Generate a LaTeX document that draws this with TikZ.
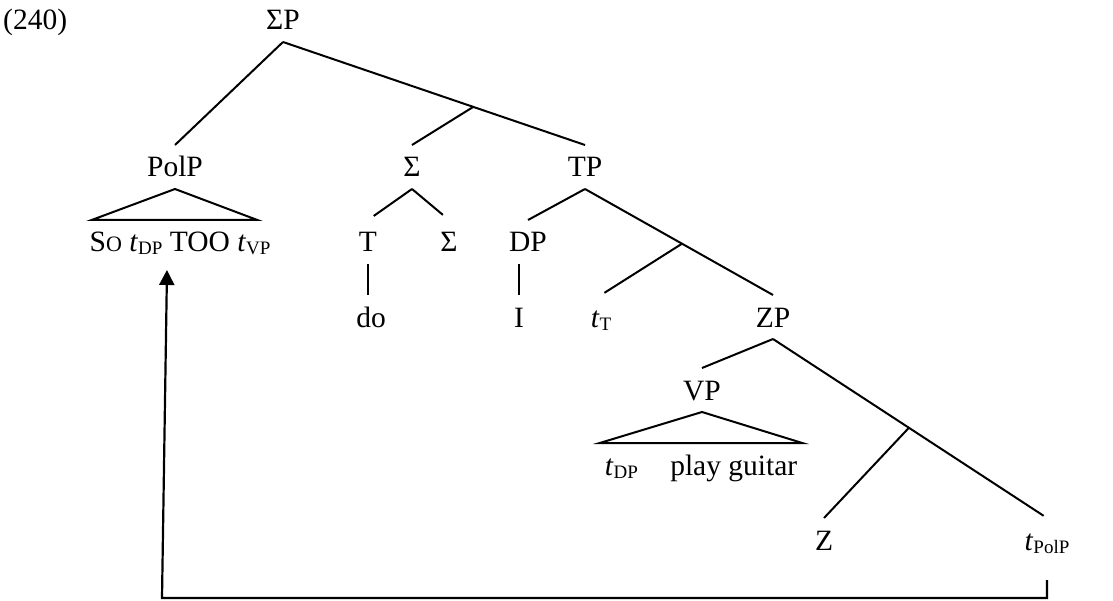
\documentclass[tikz,border=0pt]{standalone}
\usepackage{fontspec}
\setmainfont{Liberation Serif}
\usetikzlibrary{arrows.meta,calc}
\newcommand{\trsub}[1]{\raisebox{-3pt}{\fontsize{19}{19}\selectfont #1}}
\newcommand{\smcap}[1]{{\fontsize{22}{22}\selectfont #1}}
\begin{document}
\begin{tikzpicture}[x=1pt,y=-1pt,
  font=\fontsize{29.5}{35}\selectfont,
  lab/.style={anchor=base, text height=20pt, text depth=0pt, inner sep=0pt, outer xsep=0pt, outer ysep=12pt},
  edge/.style={line width=2pt},
  mv/.style={line width=2.2pt, line join=miter, -{Triangle[width=15pt,length=15pt]}}]
\useasboundingbox (0,0) rectangle (1113,601);
% labels
\node[anchor=base west, inner sep=0pt] (num) at (3,30) {(240)};
\node[lab] (SP) at (283,30) {ΣP};
\node[lab] (PolP) at (175,177) {PolP};
\node[lab] (Sig1) at (412,177) {Σ};
\node[lab] (TP) at (585,177) {TP};
\node[lab] (pols) at (180,252) {S\smcap{O} \textit{t}\trsub{DP} TOO \textit{t}\trsub{VP}};
\node[lab] (T) at (368,252) {T};
\node[lab] (Sig2) at (449,252) {Σ};
\node[lab] (DP) at (528,252) {DP};
\node[lab] (do) at (371,327) {do};
\node[lab] (I) at (519,327) {I};
\node[lab] (tT) at (601,327) {\textit{t}\trsub{T}};
\node[lab] (ZP) at (773,327) {ZP};
\node[lab] (VP) at (702,400) {VP};
\node[lab] (vpt) at (701,475) {\textit{t}\trsub{DP}\hspace{1.1em}play guitar};
\node[lab] (Z) at (824,550) {Z};
\node[lab] (tPolP) at (1047,550) {\textit{t}\trsub{PolP}};
% branches
\draw[edge] (SP.south) -- (PolP.north);
\draw[edge] (SP.south) -- (TP.north);
\coordinate (j1) at ($(SP.south)!0.63!(TP.north)$);
\draw[edge] (j1) -- (Sig1.north);
\draw[edge, shorten >=7pt] (Sig1.south) -- (T.north);
\draw[edge, shorten >=8pt] (Sig1.south) -- (Sig2.north);
\draw[edge] (T.south) -- (T.south |- do.north);
\draw[edge] (TP.south) -- (DP.north);
\draw[edge] (TP.south) -- (ZP.north);
\coordinate (j2) at ($(TP.south)!0.516!(ZP.north)$);
\draw[edge, shorten >=4pt] (j2) -- (tT.north);
\draw[edge] (I.north |- DP.south) -- (I.north);
\draw[edge] (ZP.south) -- (VP.north);
\draw[edge, shorten >=4pt] (ZP.south) -- (tPolP.north);
\coordinate (j3) at ($(ZP.south)!0.496!(tPolP.north)$);
\draw[edge] (j3) -- (Z.north);
% triangles
\draw[edge, line join=miter] (PolP.south) -- ([xshift=2pt]pols.north west) -- ([xshift=-13pt]pols.north east) -- cycle;
\draw[edge, line join=miter] (VP.south) -- ([xshift=-5pt]vpt.north west) -- ([xshift=5pt]vpt.north east) -- cycle;
% movement arrow
\coordinate (corner) at (162,598);
\coordinate (arrtip) at (167,270);
\draw[mv] ([yshift=-18pt]tPolP.south) |- (corner) -- (arrtip);
\end{tikzpicture}
\end{document}
